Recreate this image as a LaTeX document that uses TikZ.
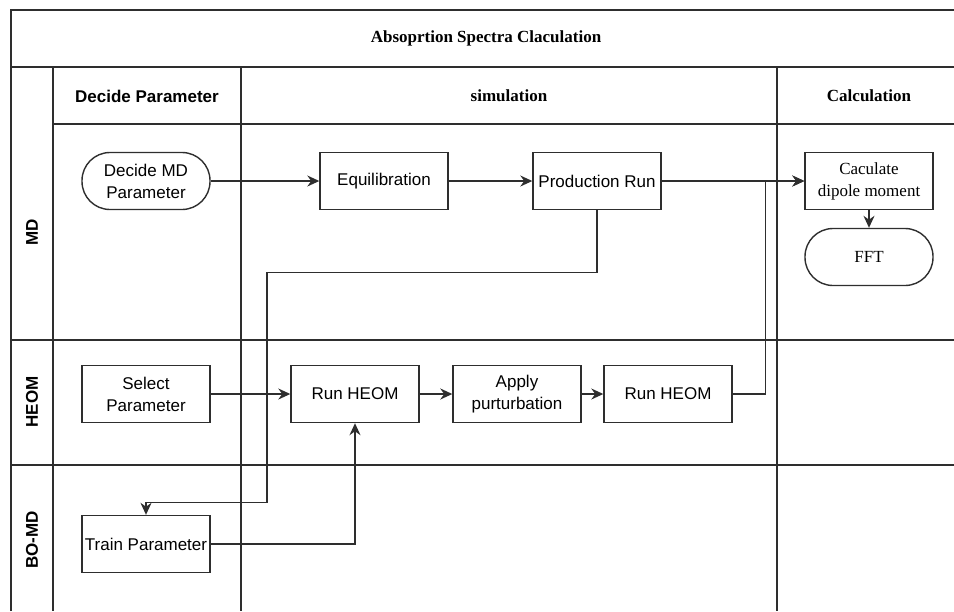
\documentclass[tikz,border=0pt]{standalone}
\usepackage{fontspec}
\setmainfont{Liberation Serif}
\setsansfont{Liberation Sans}
\usepackage{tikz}
\usetikzlibrary{arrows.meta,positioning}

\definecolor{linegray}{HTML}{2E2E2E}

\tikzset{
  box/.style={draw=linegray, line width=1.4pt, fill=white, minimum width=128pt,
    minimum height=57pt, inner sep=0pt, align=center,
    font=\sffamily\fontsize{17}{22}\selectfont},
  stadium/.style={box, rounded corners=28pt},
  serif/.style={font=\rmfamily\fontsize{17}{22}\selectfont},
  lanehead/.style={font=\sffamily\bfseries\fontsize{17}{22}\selectfont},
  colhead/.style={font=\rmfamily\bfseries\fontsize{17}{22}\selectfont},
  lane/.style={draw=linegray, line width=1.4pt},
  link/.style={draw=linegray, line width=1.4pt, -{Stealth[length=12pt,width=11pt]}},
}

\begin{document}
\begin{tikzpicture}[x=1pt, y=-1pt]
\useasboundingbox (0,0) rectangle (954,611);

%frame
\draw[lane] (11,611) -- (11,10) -- (954,10);
\draw[lane] (11,67) -- (954,67);
\draw[lane] (53,124) -- (954,124);
\draw[lane] (11,340) -- (954,340);
\draw[lane] (11,465) -- (954,465);
\draw[lane] (53,67) -- (53,611);
\draw[lane] (241,67) -- (241,611);
\draw[lane] (777,67) -- (777,611);

%headers
\node (title) [colhead] at (486,38)           {Absoprtion Spectra Claculation};
\node (hdec)  [lanehead] at (147,96)          {Decide Parameter};
\node (hsim)  [colhead] at (509,96)           {simulation};
\node (hcalc) [colhead] at (869,96)           {Calculation};
\node (lmd)   [lanehead, rotate=90] at (32,232) {MD};
\node (lheom) [lanehead, rotate=90] at (32,402) {HEOM};
\node (lbomd) [lanehead, rotate=90] at (32,540) {BO-MD};

%nodes
\node (dmd) [stadium] at (146,181)                       {Decide MD\\Parameter};
\node (eq)  [box, right of=dmd, node distance=238pt]     {Equilibration};
\node (pr)  [box, right of=eq, node distance=213pt]      {Production Run};
\node (cdm) [box, serif, right of=pr, node distance=272pt] {Caculate\\dipole moment};
\node (fft) [stadium, serif, below of=cdm, node distance=76pt] {FFT};

\node (sel) [box, below of=dmd, node distance=213pt]     {Select\\Parameter};
\node (rh1) [box, right of=sel, node distance=209pt]     {Run HEOM};
\node (ap)  [box, right of=rh1, node distance=162pt]     {Apply\\purturbation};
\node (rh2) [box, right of=ap, node distance=151pt]      {Run HEOM};

\node (trn) [box, below of=sel, node distance=150pt]     {Train Parameter};

%links
\draw[link] (dmd) -- (eq);
\draw[link] (eq) -- (pr);
\draw[link] (pr) -- (cdm);
\draw[link] (cdm) -- (fft);
\draw[link] (sel) -- (rh1);
\draw[link, line width=2pt] (rh1) -- (ap);
\draw[link] (ap) -- (rh2);
\draw[link] (rh2.east) -- ++(33,0) |- (cdm.west);
\draw[link] (pr.south) -- ++(0,62) -- ++(-330,0) -- ++(0,230) -| (trn.north);
\draw[link] (trn.east) -| (rh1.south);
\end{tikzpicture}
\end{document}
